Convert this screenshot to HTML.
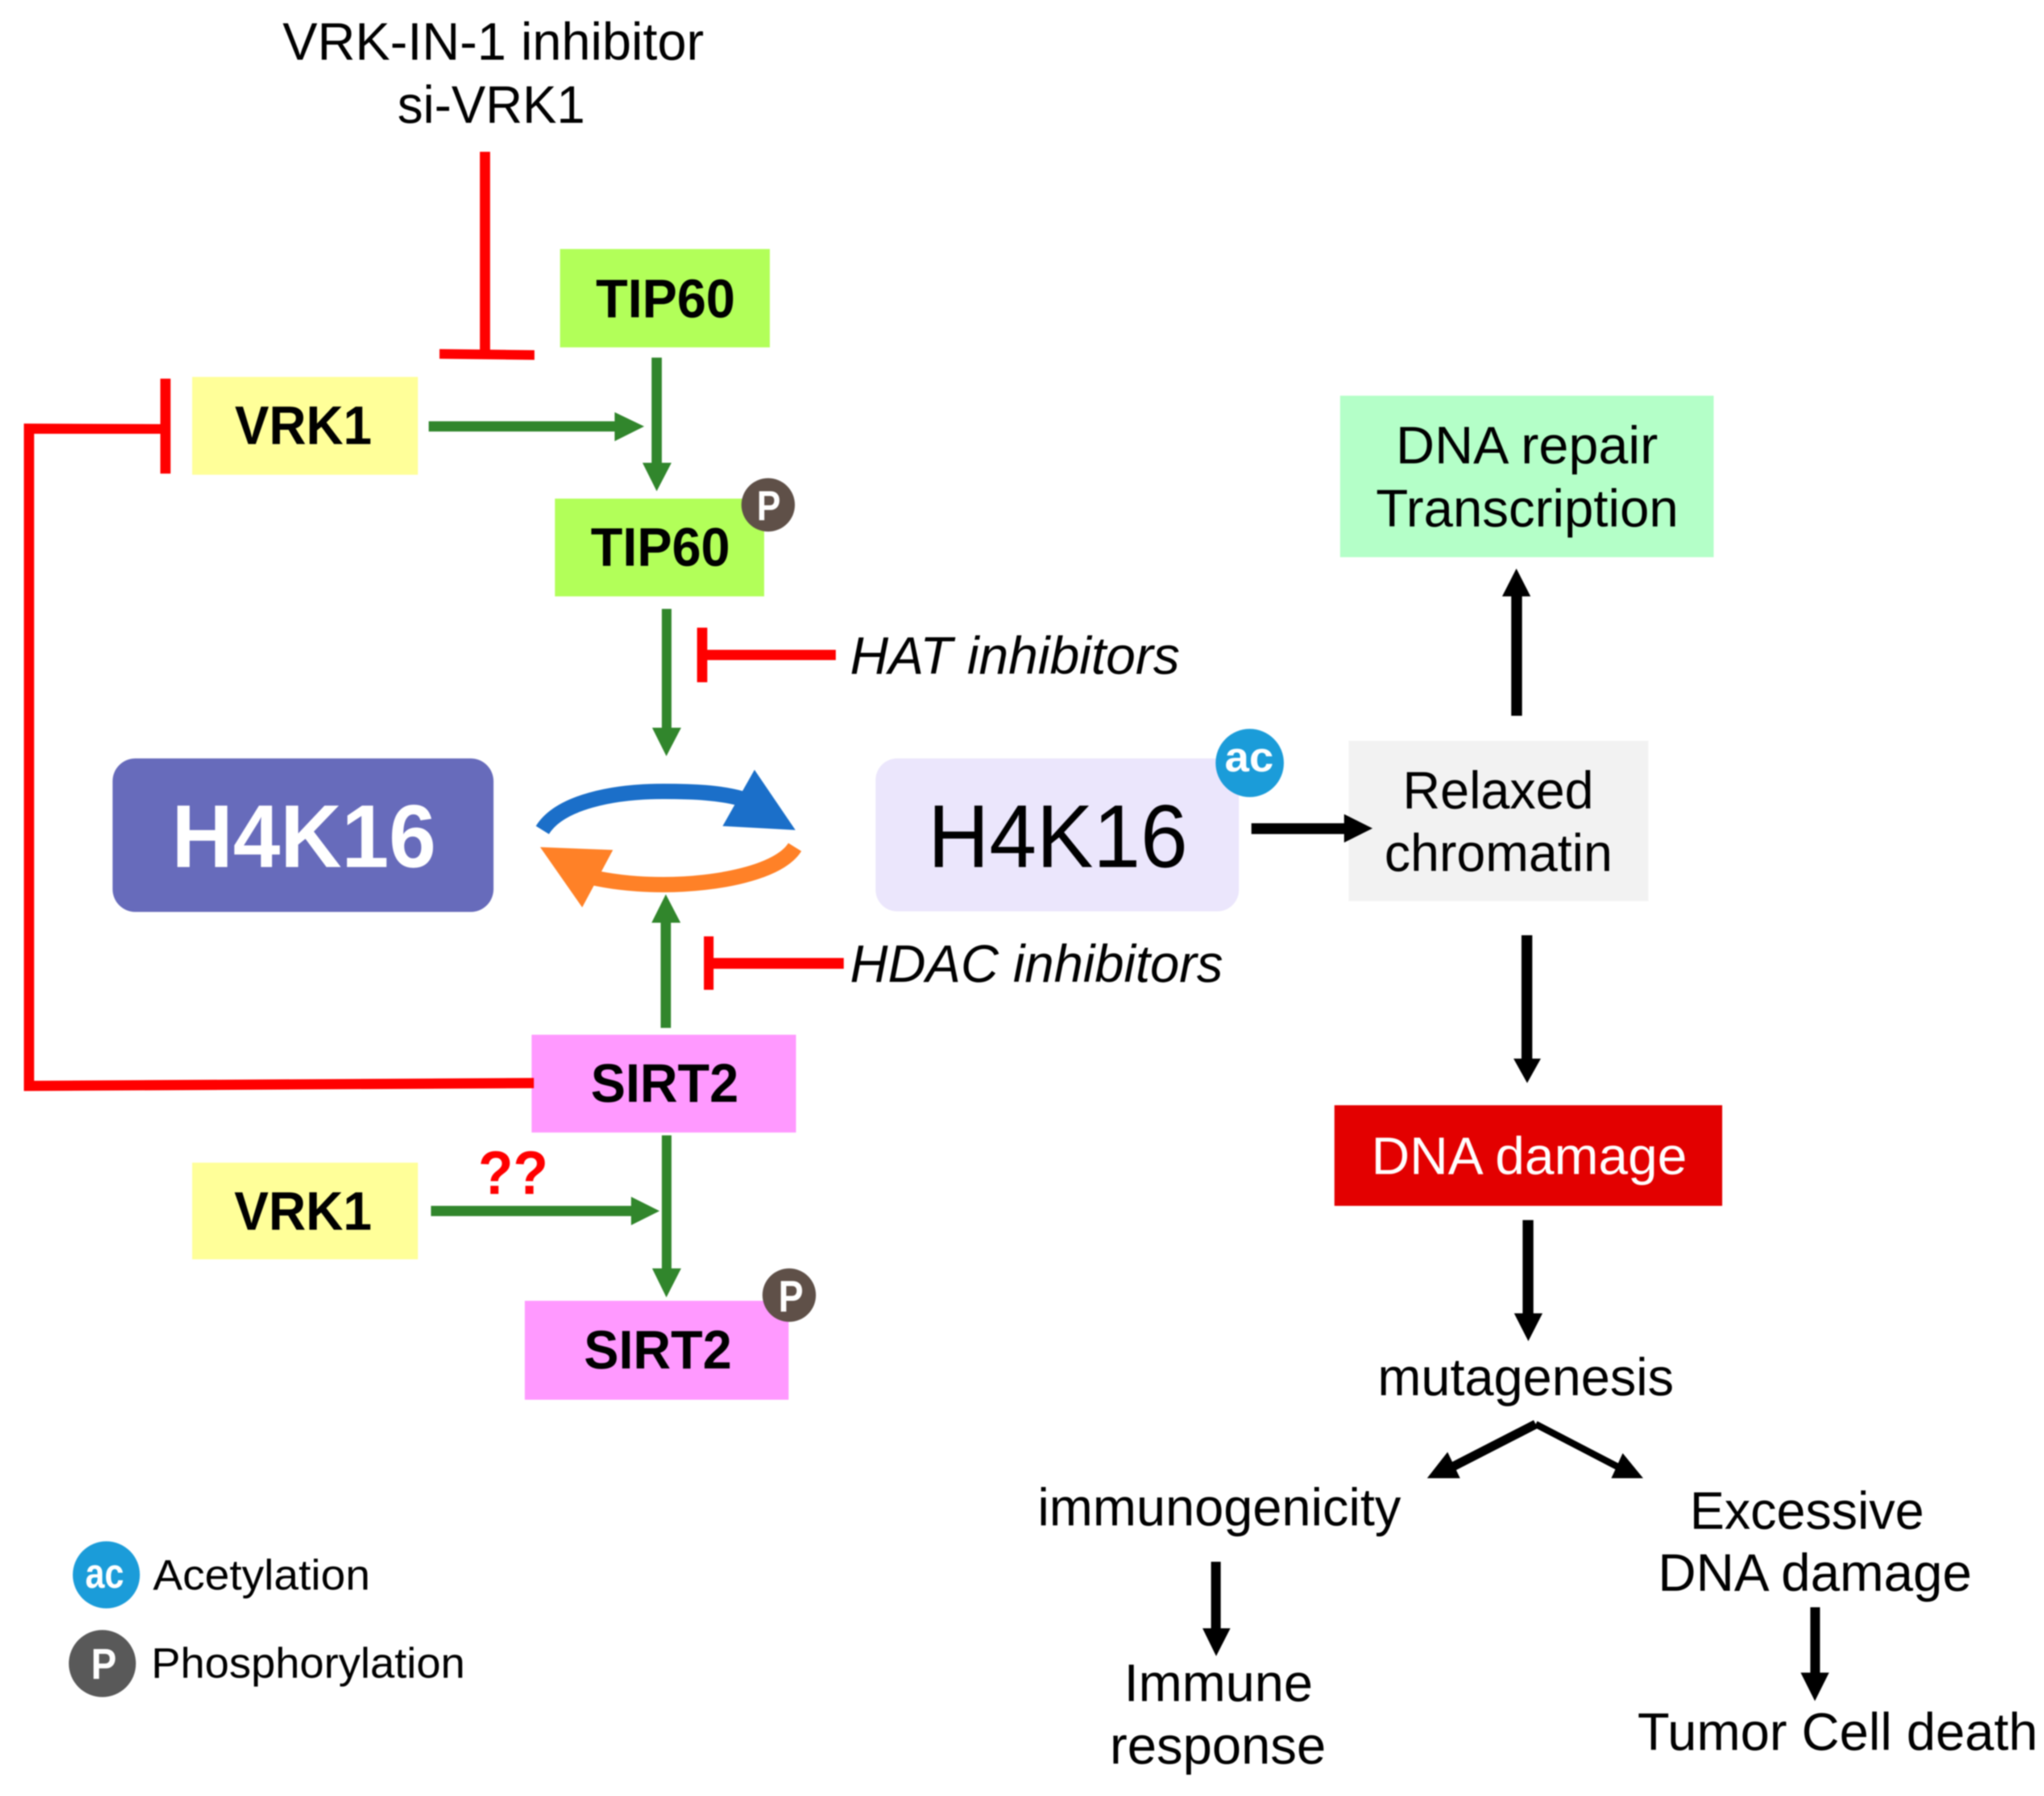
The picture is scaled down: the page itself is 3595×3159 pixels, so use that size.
<!DOCTYPE html>
<html><head><meta charset="utf-8"><title>VRK1 H4K16 diagram</title>
<style>html,body{margin:0;padding:0;background:#fff}svg{display:block;filter:blur(1px)}
text{font-family:"Liberation Sans",Arial,sans-serif;fill:#000}
.r{font-size:93px}.b{font-size:96px;font-weight:bold}
</style></head><body>
<svg xmlns="http://www.w3.org/2000/svg" width="3595" height="3159" viewBox="0 0 3595 3159">
<rect width="3595" height="3159" fill="#fff"/>
<!-- boxes -->
<rect x="985" y="438" width="369" height="173" fill="#b2ff59"/>
<rect x="976" y="877" width="368" height="172" fill="#b2ff59"/>
<rect x="338" y="663" width="397" height="172" fill="#ffff99"/>
<rect x="338" y="2045" width="397" height="170" fill="#ffff99"/>
<rect x="935" y="1820" width="465" height="172" fill="#ff99ff"/>
<rect x="923" y="2288" width="464" height="174" fill="#ff99ff"/>
<rect x="198" y="1334" width="670" height="270" rx="40" fill="#676bbb"/>
<rect x="1540" y="1334" width="639" height="269" rx="38" fill="#ebe6fc"/>
<rect x="2372" y="1303" width="527" height="282" fill="#f2f2f2"/>
<rect x="2357" y="696" width="657" height="284" fill="#b4ffc8"/>
<rect x="2347" y="1944" width="682" height="177" fill="#e30000"/>
<!-- red inhibitors -->
<g fill="#ff0000">
<rect x="844" y="267" width="18" height="350"/>
<polygon points="773,614 940,616 940,633 773,631"/>
<rect x="282" y="666" width="18" height="167"/>
<polygon points="42,745 282,746 282,763 60,763 60,1901 939,1896 939,1914 42,1919"/>
<rect x="1226" y="1104" width="18" height="96"/>
<rect x="1244" y="1143" width="226" height="18"/>
<rect x="1238" y="1647" width="17" height="94"/>
<rect x="1255" y="1685" width="229" height="19"/>
</g>
<!-- green arrows -->
<g fill="#31862c">
<rect x="754" y="741" width="327" height="18"/><polygon points="1081,725 1133,750 1081,776"/>
<rect x="1146" y="629" width="18" height="185"/><polygon points="1130,814 1181,814 1155,864"/>
<rect x="1164" y="1071" width="17" height="209"/><polygon points="1147,1280 1198,1280 1172,1330"/>
<rect x="1162" y="1623" width="18" height="185"/><polygon points="1146,1623 1197,1623 1171,1573"/>
<rect x="758" y="2121" width="352" height="18"/><polygon points="1110,2105 1160,2130 1110,2155"/>
<rect x="1164" y="1997" width="17" height="234"/><polygon points="1147,2231 1198,2231 1172,2282"/>
</g>
<!-- cycle -->
<path d="M954,1460 C985,1410 1080,1392 1167,1392 C1220,1392 1265,1394 1305,1405" fill="none" stroke="#1b6fc9" stroke-width="27"/>
<polygon points="1327,1354 1399,1460 1271,1453" fill="#1b6fc9"/>
<path d="M1398,1490 C1370,1535 1260,1556 1167,1556 C1120,1556 1080,1552 1040,1543" fill="none" stroke="#ff8127" stroke-width="27"/>
<polygon points="950,1490 1078,1495 1024,1596" fill="#ff8127"/>
<!-- black arrows -->
<g fill="#000">
<rect x="2201" y="1448" width="163" height="19"/><polygon points="2364,1432 2414,1457 2364,1482"/>
<rect x="2658" y="1049" width="19" height="210"/><polygon points="2642,1049 2692,1049 2667,1000"/>
<rect x="2676" y="1645" width="19" height="217"/><polygon points="2662,1862 2710,1862 2686,1905"/>
<rect x="2678" y="2146" width="19" height="164"/><polygon points="2663,2310 2713,2310 2688,2359"/>
<rect x="2130" y="2747" width="17" height="117"/><polygon points="2115,2864 2164,2864 2139,2913"/>
<rect x="3184" y="2827" width="17" height="115"/><polygon points="3167,2942 3217,2942 3192,2992"/>
<polygon points="2510,2600 2568,2600 2546,2554"/>
<polygon points="2890,2600 2834,2600 2854,2556"/>
</g>
<path d="M2545,2585 L2701,2505" fill="none" stroke="#000" stroke-width="16"/>
<path d="M2701,2505 L2855,2585" fill="none" stroke="#000" stroke-width="12"/>
<!-- badges -->
<circle cx="1351" cy="888" r="47" fill="#5f5048"/>
<circle cx="1388" cy="2278" r="47" fill="#5f5048"/>
<circle cx="2198" cy="1342" r="60" fill="#1b9cd9"/>
<circle cx="187" cy="2770" r="59" fill="#1b9cd9"/>
<circle cx="180" cy="2926" r="59" fill="#595959"/>
<text x="1331" y="915" style="font-size:74px;font-weight:bold;fill:#fff" textLength="42" lengthAdjust="spacingAndGlyphs">P</text>
<text x="1369" y="2307" style="font-size:78px;font-weight:bold;fill:#fff" textLength="44" lengthAdjust="spacingAndGlyphs">P</text>
<text x="2154" y="1357" style="font-size:74px;font-weight:bold;fill:#fff" textLength="86" lengthAdjust="spacingAndGlyphs">ac</text>
<text x="150" y="2793" style="font-size:74px;font-weight:bold;fill:#fff" textLength="68" lengthAdjust="spacingAndGlyphs">ac</text>
<text x="160" y="2953" style="font-size:76px;font-weight:bold;fill:#fff" textLength="45" lengthAdjust="spacingAndGlyphs">P</text>
<!-- labels -->
<text class="r" x="497" y="105" textLength="741" lengthAdjust="spacingAndGlyphs">VRK-IN-1 inhibitor</text>
<text class="r" x="699" y="216" textLength="330" lengthAdjust="spacingAndGlyphs">si-VRK1</text>
<text class="b" x="1048" y="558" textLength="245" lengthAdjust="spacingAndGlyphs">TIP60</text>
<text class="b" x="1039" y="995" textLength="245" lengthAdjust="spacingAndGlyphs">TIP60</text>
<text class="b" x="413" y="781" textLength="241" lengthAdjust="spacingAndGlyphs">VRK1</text>
<text class="b" x="412" y="2163" textLength="242" lengthAdjust="spacingAndGlyphs">VRK1</text>
<text class="b" x="1039" y="1938" textLength="260" lengthAdjust="spacingAndGlyphs">SIRT2</text>
<text class="b" x="1027" y="2407" textLength="260" lengthAdjust="spacingAndGlyphs">SIRT2</text>
<text x="302" y="1525" style="font-size:157px;font-weight:bold;fill:#fff" textLength="465" lengthAdjust="spacingAndGlyphs">H4K16</text>
<text x="1632" y="1525" style="font-size:157px" textLength="457" lengthAdjust="spacingAndGlyphs">H4K16</text>
<text class="r" x="1495" y="1185" style="font-style:italic" textLength="580" lengthAdjust="spacingAndGlyphs">HAT inhibitors</text>
<text class="r" x="1495" y="1727" style="font-style:italic" textLength="656" lengthAdjust="spacingAndGlyphs">HDAC inhibitors</text>
<text x="841" y="2100" style="font-size:108px;font-weight:bold;fill:#ff0000" textLength="123" lengthAdjust="spacingAndGlyphs">??</text>
<text class="r" x="2455" y="815" textLength="461" lengthAdjust="spacingAndGlyphs">DNA repair</text>
<text class="r" x="2420" y="926" textLength="532" lengthAdjust="spacingAndGlyphs">Transcription</text>
<text class="r" x="2467" y="1422" textLength="336" lengthAdjust="spacingAndGlyphs">Relaxed</text>
<text class="r" x="2435" y="1532" textLength="401" lengthAdjust="spacingAndGlyphs">chromatin</text>
<text class="r" x="2412" y="2065" style="fill:#fff" textLength="555" lengthAdjust="spacingAndGlyphs">DNA damage</text>
<text class="r" x="2423" y="2454" textLength="521" lengthAdjust="spacingAndGlyphs">mutagenesis</text>
<text class="r" x="1825" y="2683" textLength="639" lengthAdjust="spacingAndGlyphs">immunogenicity</text>
<text class="r" x="1977" y="2992" textLength="332" lengthAdjust="spacingAndGlyphs">Immune</text>
<text class="r" x="1952" y="3102" textLength="380" lengthAdjust="spacingAndGlyphs">response</text>
<text class="r" x="2972" y="2689" textLength="412" lengthAdjust="spacingAndGlyphs">Excessive</text>
<text class="r" x="2916" y="2798" textLength="552" lengthAdjust="spacingAndGlyphs">DNA damage</text>
<text class="r" x="2880" y="3078" textLength="704" lengthAdjust="spacingAndGlyphs">Tumor Cell death</text>
<text x="269" y="2796" style="font-size:75px" textLength="382" lengthAdjust="spacingAndGlyphs">Acetylation</text>
<text x="266" y="2951" style="font-size:75px" textLength="552" lengthAdjust="spacingAndGlyphs">Phosphorylation</text>
</svg>
</body></html>
